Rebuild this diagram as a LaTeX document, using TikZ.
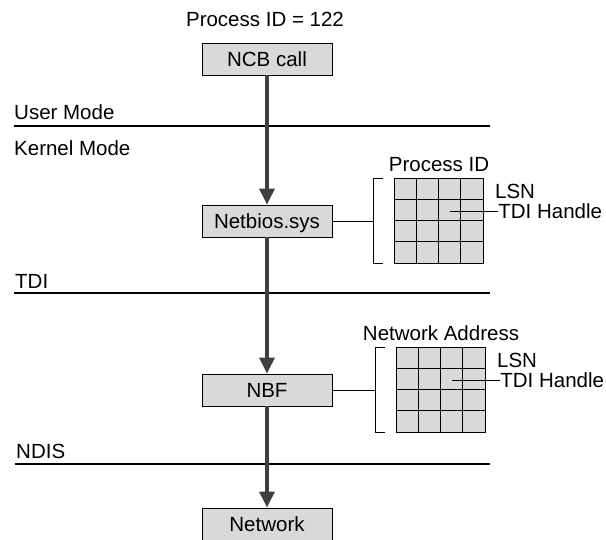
\documentclass[tikz,border=0pt]{standalone}
\usepackage{fontspec}
\setmainfont{Liberation Sans}
\usetikzlibrary{positioning, calc, arrows.meta}

\begin{document}
\begin{tikzpicture}[
    x=1pt, y=-1pt,
    font=\fontsize{20.5}{24}\selectfont,
    box/.style={rectangle, draw, line width=0.9pt, fill=gray!30, minimum width=130pt, minimum height=32pt, inner sep=0pt, text height=15pt, text depth=0pt},
    table/.style={rectangle, draw, line width=0.9pt, fill=gray!30, minimum width=89pt, minimum height=85pt, inner sep=0pt},
    flow/.style={line width=3.5pt, draw=gray!50!black, -{Triangle[width=15pt,length=16pt]}},
    layer/.style={line width=1.2pt},
    link/.style={line width=1pt},
    tag/.style={anchor=base west, inner sep=0pt}
]
\useasboundingbox (0,0) rectangle (606,539);

% Nodes
\node (pid) at (265,19) {Process ID = 122};
\node (ncb) [box] at (267,59) {NCB call};
\node (netbios) [box] at (267,221) {Netbios.sys};
\node (nbf) [box] at (267,390) {NBF};
\node (network) [box] at (267,524) {Network};

% Layers
\node (user) [tag] at (14,119) {User Mode};
\node (kernel) [tag] at (14,155) {Kernel Mode};
\node (tdi) [tag] at (15,288) {TDI};
\node (ndis) [tag] at (16,458) {NDIS};
\coordinate (user-l) at (14,126);  \coordinate (user-r) at (490,126);
\coordinate (tdi-l) at (14,293);   \coordinate (tdi-r) at (490,293);
\coordinate (ndis-l) at (15,464);  \coordinate (ndis-r) at (490,464);
\draw [layer] (user-l) -- (user-r);
\draw [layer] (tdi-l) -- (tdi-r);
\draw [layer] (ndis-l) -- (ndis-r);

% Tables
\node (pidtable) [table] at (439,221) {};
\node (addrtable) [table] at (441,390) {};
\node (pidtitle) [above=3pt of pidtable] {Process ID};
\node (addrtitle) [above=3pt of addrtable] {Network Address};
\foreach \t in {pidtable, addrtable} {
    \foreach \k in {1,2,3} {
        \draw [link] ($(\t.north west)+(\k*22.25,0)$) -- ($(\t.south west)+(\k*22.25,0)$);
        \draw [link] ($(\t.north west)+(0,\k*21.25)$) -- ($(\t.north east)+(0,\k*21.25)$);
    }
    \draw [link] ($(\t.north west)+(-11,0)$) -- ($(\t.north west)+(-21,0)$) -- ($(\t.south west)+(-21,0)$) -- ($(\t.south west)+(-11,0)$);
    \coordinate (\t-brace) at ($(\t.west)+(-21,0)$);
    \coordinate (\t-cell) at ($(\t.north west)+(55.6,33)$);
    \node (\t-lsn) [anchor=west, inner sep=0pt] at ($(\t.north east)+(11,13)$) {LSN};
    \node (\t-handle) [anchor=west, inner sep=0.5pt] at ($(\t-cell)+(48,0)$) {TDI Handle};
}

% Arrows
\draw [flow] (ncb) -- (netbios);
\draw [flow] (netbios) -- (nbf);
\draw [flow] (nbf) -- (network);

\draw [link] (netbios) -- (pidtable-brace);
\draw [link] (nbf) -- (addrtable-brace);
\draw [link] (pidtable-cell) -- (pidtable-handle);
\draw [link] (addrtable-cell) -- (addrtable-handle);

\end{tikzpicture}
\end{document}
